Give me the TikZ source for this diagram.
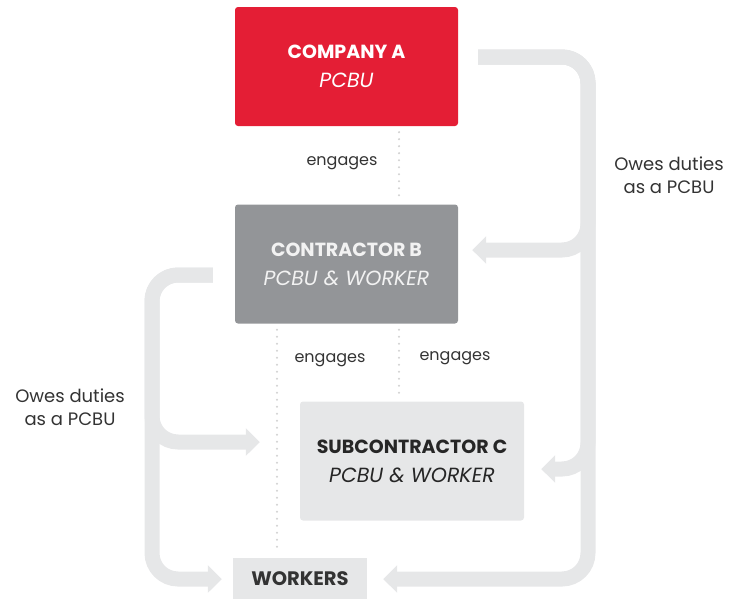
\documentclass[tikz,border=0pt]{standalone}
\usepackage{fontspec}
\setmainfont{Poppins}
\usetikzlibrary{arrows.meta, positioning, calc}
\definecolor{compred}{HTML}{E41E35}
\definecolor{contgray}{HTML}{939598}
\definecolor{subgray}{HTML}{E6E7E8}
\definecolor{bandgray}{HTML}{E6E7E8}
\definecolor{dotgray}{HTML}{D2D2D2}
\definecolor{txtdark}{HTML}{333333}
\newcommand{\boxfont}{\fontsize{19}{29}\selectfont}
\newcommand{\rolefont}{\fontsize{20.5}{29}\selectfont\itshape}
\begin{document}
\begin{tikzpicture}[x=1pt,y=-1pt,
  box/.style={rounded corners=3pt, minimum width=223pt, minimum height=119pt,
    align=center, inner sep=0pt, font=\boxfont},
  band/.style={draw=bandgray, line width=15pt, rounded corners=26pt,
    -{Triangle[width=27pt,length=14pt]}},
  dots/.style={draw=dotgray, line width=2.4pt, line cap=round,
    dash pattern=on 0pt off 7pt},
  note/.style={text=txtdark, align=center,
    font=\fontsize{16}{23}\selectfont}]
\useasboundingbox (0,0) rectangle (730,598);
% Boxes
\node[box, fill=compred, text=white] (compA) at (346.5,66.5)
  {\textbf{COMPANY A}\\{\rolefont PCBU}};
\node[box, fill=contgray, text=white!95!black] (contB) at (346.5,264)
  {\textbf{CONTRACTOR B}\\{\rolefont PCBU \& WORKER}};
\node[box, fill=subgray, text=black!85, minimum width=224pt] (subC) at (412,461)
  {\textbf{SUBCONTRACTOR C}\\{\rolefont PCBU \& WORKER}};
\node[fill=subgray, text=txtdark, minimum width=134pt, minimum height=42pt,
  font=\fontsize{19.5}{24}\selectfont] (work) at (300,579) {\textbf{WORKERS}};
% Engages
\draw[dots] ([shift={(52.5,6)}]compA.south) -- ([shift={(52.5,-6)}]contB.north);
\draw[dots] ([shift={(52.5,6)}]contB.south) -- ([shift={(-13,-6)}]subC.north);
\draw[dots] ([shift={(-69.5,6)}]contB.south) -- ([shift={(-23,-6)}]work.north);
\node[note] (engA) at (342,163) {engages};
\node[note] (engB) at (330,360) {engages};
\node[note] (engC) at (455,358) {engages};
% Duties from A
\coordinate (trunkR) at (588,57);
\draw[band] ([shift={(20,-9.5)}]compA.east) -- (trunkR) |- ([shift={(14,-14)}]contB.east);
\draw[band] ([shift={(20,-9.5)}]compA.east) -- (trunkR) |- ([shift={(17,8)}]subC.east);
\draw[band] ([shift={(20,-9.5)}]compA.east) -- (trunkR) |- ([shift={(16,0)}]work.east);
\node[note, font=\fontsize{18}{23}\selectfont] (dutyA) at (669,175) {Owes duties\\as a PCBU};
% Duties from B
\coordinate (trunkL) at (152,275);
\draw[band] ([shift={(-22,11)}]contB.west) -- (trunkL) |- ([shift={(-40,-19)}]subC.west);
\draw[band] ([shift={(-22,11)}]contB.west) -- (trunkL) |- ([shift={(-11,0)}]work.west);
\node[note, font=\fontsize{18}{23}\selectfont] (dutyB) at (70,407) {Owes duties\\as a PCBU};
\end{tikzpicture}
\end{document}
